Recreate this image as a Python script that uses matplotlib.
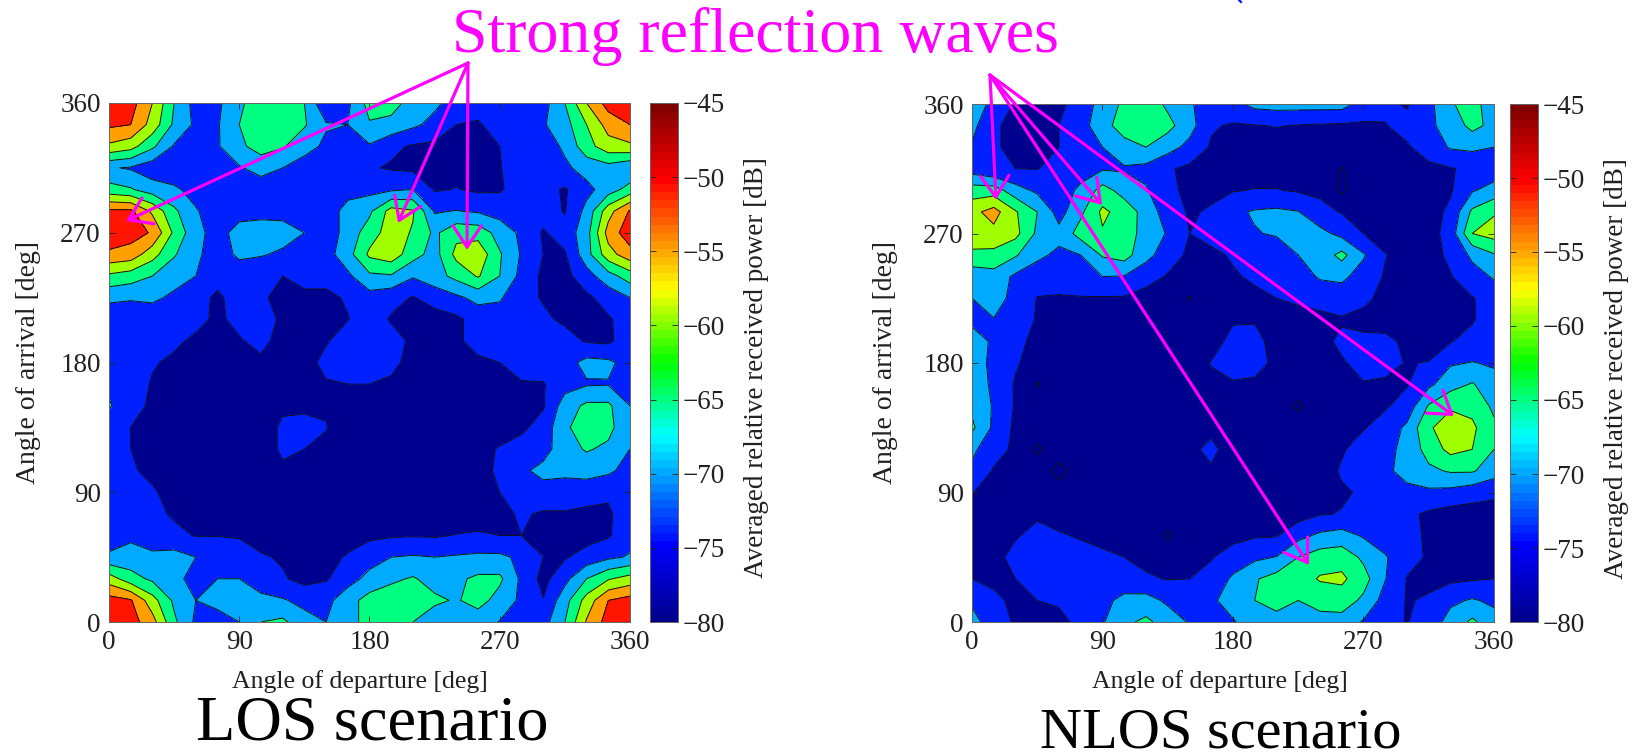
import numpy as np
import matplotlib
matplotlib.use('Agg')
import matplotlib.pyplot as plt
from matplotlib.cm import ScalarMappable
from matplotlib.colors import LinearSegmentedColormap, Normalize
from matplotlib.lines import Line2D
from matplotlib.patches import FancyArrowPatch

plt.rcParams['font.family'] = ['Liberation Serif', 'DejaVu Serif']

W, H = 1640, 755

# grid nodes, degrees
angle_departure = list(range(0, 361, 15))
angle_arrival = list(range(360, -1, -15))   # rows below run from 360 down to 0
angle_ticks = [0, 90, 180, 270, 360]
power_ticks = [-80, -75, -70, -65, -60, -55, -50, -45]
contour_levels = [-80, -75, -70, -65, -60, -55, -50, -45]
band_colors = ['#00008f', '#00008f', '#0020ff', '#00aaff', '#00ff80', '#a0ff00', '#ffa000', '#ff1500']

los_power = [
    [-47, -48, -55, -65, -72, -71, -66, -62, -62, -65, -74.5, -71, -63, -63, -67, -69, -72, -73, -73, -73, -72, -65, -55, -48, -47],
    [-49, -50, -57, -66, -71, -70.5, -65, -62, -61.5, -64.5, -69.5, -70, -65.5, -66.5, -69, -71.5, -75, -75.5, -73, -72, -70.5, -67, -60, -53, -50],
    [-56, -58, -64, -70.5, -72, -70.5, -66, -63, -64.5, -68, -71, -73, -70.5, -74, -75.5, -76, -77, -77, -75, -73, -73, -69, -62, -57, -56],
    [-69.5, -70.5, -73, -74, -73.5, -72, -70.5, -68, -70, -72.5, -73, -74, -74.5, -75.5, -76, -76, -76.5, -76, -75.2, -73, -72, -71, -68, -67, -69.5],
    [-63, -64.5, -67.5, -69, -72, -73, -73, -73, -73, -73, -73, -72, -71.5, -70.8, -70, -75.5, -74.8, -75.8, -75.5, -73, -73.5, -75.5, -71.5, -67.5, -63],
    [-49, -49, -56, -64, -69.5, -73, -72, -72, -72, -73, -73, -68, -66, -58, -59.5, -70.5, -69.8, -70.6, -72, -73, -73, -75.3, -68.5, -57, -49.5],
    [-46.5, -48, -50.5, -61, -68.5, -72, -68, -67, -67.5, -70, -73, -68, -62.5, -57.5, -60.5, -66, -61.5, -62, -67, -71, -75.5, -73, -67, -53, -47],
    [-51, -52, -58, -64.5, -69, -72.5, -69, -69.5, -71, -73, -72, -67, -59, -57, -63, -67, -58.5, -56.5, -64.5, -70.5, -75, -75.5, -67, -57, -52],
    [-61, -62.5, -65, -68, -70, -73, -73, -74.5, -75, -73.5, -73.5, -71, -66, -65.5, -69.5, -67, -63.5, -59.5, -65, -71.5, -76, -76.5, -72, -67, -62.5],
    [-69, -69.5, -69, -71, -73, -76, -72.5, -74.5, -76, -76, -76, -74.5, -72, -73.5, -75.3, -73, -71, -68.5, -69.5, -73, -75.5, -76, -76, -73, -70],
    [-73, -73, -73, -73, -73.5, -76, -73.5, -72.5, -76, -77, -77, -75.2, -72.5, -75.5, -77, -77, -76, -73, -72, -72.5, -74, -76, -75.5, -75.5, -73],
    [-72, -72, -72.5, -74, -76, -76, -75.5, -73.5, -77, -77, -75.5, -72.5, -72.5, -73, -76, -77, -76, -73, -72.5, -73, -73, -73, -75.5, -76, -72],
    [-72, -72.5, -74.5, -76, -76.5, -77, -75.5, -76, -77, -77, -73.5, -72, -72, -73.5, -77, -77, -77, -76, -75, -72.5, -72.5, -72, -68.5, -69, -72],
    [-71, -72, -75.5, -77, -77, -77, -77, -77, -77, -77, -75.5, -75, -75, -76, -77, -77, -77, -77, -76.5, -75.5, -75.3, -72, -70.5, -70.3, -70.5],
    [-69.5, -73, -76, -78, -78, -78, -78, -78, -76, -75.3, -75.5, -78, -78, -78, -78, -78, -78, -78, -78, -77, -75.5, -67.5, -64, -64, -70],
    [-72.5, -75, -78, -78, -78, -78, -78, -78, -74, -74.5, -74.8, -78, -78, -78, -78, -78, -78, -78, -78, -76, -73, -66, -62, -63.5, -69],
    [-73.5, -75, -77, -78, -78, -78, -78, -78, -74, -75, -76, -78, -78, -78, -78, -78, -78, -77, -74.5, -73, -72, -67, -64.5, -66, -70],
    [-74, -74.5, -76, -77, -78, -78, -78, -78, -76, -77, -78, -78, -78, -78, -78, -78, -78, -77, -74, -71, -68.5, -69, -68, -69, -72],
    [-74, -74, -74.5, -76.5, -78, -78, -78, -78, -78, -78, -78, -78, -78, -78, -78, -78, -78, -77, -75, -73, -72, -72, -73, -74.5, -73],
    [-74, -74, -74, -75.5, -77, -78, -78, -78, -78, -78, -78, -78, -78, -78, -78, -78, -78, -77, -76, -74.5, -75.5, -75.5, -76, -75.5, -73],
    [-73, -71, -72.5, -74, -75.2, -75.2, -75.5, -77, -77, -77, -77, -77, -76, -75.5, -75.3, -75.5, -74.8, -74.5, -75, -75, -75.5, -77, -77, -75.5, -72],
    [-69, -68, -69, -68, -70, -70.5, -72, -74.5, -75.5, -77, -76.5, -74.5, -72, -70, -69.5, -70, -69.5, -69, -69, -71, -75, -75.5, -73, -71, -69.5],
    [-57.5, -63, -66, -68, -72.5, -70, -70, -73, -74.5, -76.5, -75.5, -72, -68.5, -66, -64.5, -67, -66, -64, -64, -71, -76.5, -71.5, -65, -60.5, -58],
    [-48, -49.5, -58, -66, -70, -68.5, -68, -68.5, -69.5, -71.5, -71.5, -67, -63, -62, -62, -64, -65.5, -63, -67, -71, -74.8, -67, -58, -50, -48],
    [-47, -48, -53, -64, -71, -72, -70, -65, -64, -68, -70, -67, -63, -62, -65, -68, -68, -68, -70.2, -72, -72, -65, -54.5, -48, -47],
]

nlos_power = [
    [-68, -71, -75.5, -77, -76, -73, -68, -64, -62, -66, -69.5, -72, -71.5, -68.5, -68, -68, -68, -68, -72, -74, -75.5, -71.5, -65.5, -63, -68],
    [-68.5, -74.5, -76, -76.5, -75, -72, -67, -62.5, -61, -63.5, -68, -74.5, -75.5, -75.2, -74.8, -75.2, -75.5, -75.7, -75.7, -75.2, -73.5, -71, -68, -63.5, -66.5],
    [-70.5, -74.5, -76, -76.5, -75, -73, -70, -67, -65, -68, -71.5, -75.5, -77, -77, -77, -77, -77, -77, -77, -77, -75.5, -73, -69.5, -69, -70],
    [-72.5, -74.8, -75, -75.1, -74, -72, -70.5, -70.5, -71.5, -74.5, -76, -77, -77, -77, -77, -77, -77, -80.3, -77, -77, -77, -76, -75.3, -74, -73],
    [-62.5, -62.5, -68, -71, -72.5, -69, -63, -67, -69.5, -74, -76, -76, -75.3, -74.8, -74.8, -75.5, -76, -81, -77, -77, -77, -77, -75.5, -70.5, -68],
    [-56.5, -53, -59.5, -65, -72, -66, -59, -62, -67, -72.5, -75.5, -74.5, -71, -69.5, -69, -69.8, -73.5, -75.3, -77, -77, -77, -77, -74, -64, -60.5],
    [-56, -56.5, -58.5, -66, -68.5, -63, -60.5, -63, -66.5, -70.5, -75, -73.5, -70, -70.3, -69.5, -66.5, -68.5, -71.5, -75, -77, -77, -77, -73, -60, -58],
    [-61.5, -61.5, -64.5, -69, -71, -70, -64.5, -63, -68.5, -72.5, -76, -76, -74.5, -73, -73, -70, -68, -63.5, -69.5, -74.8, -77, -77, -74, -69, -65.5],
    [-68, -67, -71, -72.5, -73, -72, -70, -70.3, -73, -75.5, -77, -77, -75.5, -74.3, -73.5, -72, -69.5, -69, -72, -75.5, -77, -77, -75.3, -72, -69.5],
    [-70, -68, -71.5, -75.2, -75.4, -75.3, -75.4, -75.5, -77, -77, -80.3, -77, -77, -76, -75, -74, -73, -72.5, -73.5, -77, -77, -77, -77, -75.3, -73],
    [-71.5, -70.2, -72, -75.5, -77, -77, -77, -77, -77, -77, -77, -76.5, -75.5, -75.3, -77, -77, -76.5, -75.5, -77, -77, -77, -77, -77, -75.5, -72],
    [-67, -71, -74, -76, -77, -77, -77, -77, -77, -77, -77, -77, -73.5, -73.8, -76.5, -77, -76.5, -74, -73.5, -73.8, -76, -77, -75.3, -73, -70],
    [-68, -71, -74.5, -77, -77, -77, -77, -77, -77, -77, -77, -74.8, -73, -73.5, -76, -77, -77, -75.5, -73.5, -74, -75.2, -74.8, -70.5, -69.8, -70.5],
    [-67, -71, -75.5, -80.5, -77, -77, -77, -77, -77, -77, -77, -76, -75.5, -75.8, -77, -77, -77, -77, -75.3, -75.5, -75.3, -71, -67, -64.5, -68.5],
    [-66, -70.5, -75.5, -77, -77, -77, -77, -77, -77, -77, -77, -77, -77, -77, -77, -81, -77, -77, -77, -75.5, -73, -64.5, -60.5, -61.5, -66],
    [-64, -71, -76, -77, -77, -77, -77, -77, -77, -77, -75.6, -76, -77, -77, -77, -77, -77, -77, -75.3, -73, -69, -60.5, -58, -59, -64],
    [-69, -73, -76, -81, -77, -77, -77, -77, -77, -77, -76, -74, -77, -77, -77, -77, -77, -75.5, -73, -71.5, -68.5, -63, -58.5, -60, -65],
    [-71, -75.5, -77, -77, -82, -77, -77, -77, -77, -77, -77, -75.5, -77, -77, -77, -77, -77, -74.5, -72.5, -71.5, -67.5, -66, -64.5, -64.5, -67.5],
    [-74.8, -77, -77, -77, -77, -77, -77, -77, -77, -77, -77, -77, -77, -77, -77, -77, -77, -75.5, -74.5, -73, -72, -71, -71.5, -73, -74.5],
    [-77, -77, -76.5, -75.5, -77, -77, -77, -77, -77, -77, -77, -77, -77, -77, -77, -77, -75.3, -74.8, -73.5, -73, -74, -75.8, -77, -77, -76],
    [-77, -76.5, -75.3, -74, -74.5, -75.5, -76.5, -77, -77, -81, -77, -77, -76, -75.5, -75.3, -71.5, -69, -68, -70.5, -73, -74, -75.5, -77, -77, -76.5],
    [-76, -76, -74, -73, -72.5, -73, -74, -75, -76, -76, -76, -75.2, -73.5, -71, -69.8, -65, -62.5, -62, -66, -69.5, -73.5, -75.5, -77, -77, -76],
    [-75, -76, -75, -73.5, -72.8, -73.5, -73.5, -74.5, -74.5, -75.2, -75, -74, -69, -65.5, -63, -62.5, -59.5, -59, -63, -69.8, -75.2, -76, -76, -75.5, -75],
    [-71, -74, -76, -75, -74.5, -75, -72, -68, -68, -71, -73, -71, -67.5, -65, -63.5, -65, -63.5, -62.5, -66, -72, -75.3, -74.5, -71, -69.5, -71],
    [-68, -73, -75.5, -76, -76, -74, -70.5, -66, -64, -67, -70.5, -73, -70.5, -67, -66.5, -66.5, -66.5, -67, -70.5, -73.5, -75.2, -73, -68, -64, -68],
]

# colorbar ramp
bar_cmap = LinearSegmentedColormap.from_list('bar', [
    (0.0, '#00008f'), (0.143, '#0000ff'), (0.357, '#00ffff'), (0.5, '#00ff00'),
    (0.643, '#ffff00'), (0.857, '#ff0000'), (1.0, '#800000')], N=64)

TXT = '#231f20'


def px_rect(x0, y0, x1, y1):
    # pixel box (y from the top) to figure fractions
    return [x0 / W, 1 - y1 / H, (x1 - x0) / W, (y1 - y0) / H]


def px_pt(x, y):
    return (x / W, 1 - y / H)


def draw_panel(fig, rect, cbar_rect, power, xlabel_x, ylabel_x):
    ax = fig.add_axes(px_rect(*rect))
    xx, yy = np.meshgrid(angle_departure, angle_arrival)
    zz = np.array(power, dtype=float)
    ax.contourf(xx, yy, zz, levels=contour_levels, colors=band_colors, extend='min')
    ax.contour(xx, yy, zz, levels=contour_levels, colors='#111111', linewidths=0.7,
               linestyles='solid')
    ax.set_xlim(0, 360)
    ax.set_ylim(0, 360)
    ax.set_xticks(angle_ticks)
    ax.set_yticks(angle_ticks)
    ax.tick_params(direction='in', top=True, right=True, length=4, width=0.6,
                   labelsize=19.5, pad=6, colors=TXT)
    ax.set_xlabel('Angle of departure [deg]', fontsize=18.5, color=TXT)
    ax.set_ylabel('Angle of arrival [deg]', fontsize=20, color=TXT)
    ax.xaxis.set_label_coords(xlabel_x, -0.093)
    ax.yaxis.set_label_coords(ylabel_x, 0.5)
    for s in ax.spines.values():
        s.set_linewidth(0.7)
        s.set_color('#666666')

    cax = fig.add_axes(px_rect(*cbar_rect))
    sm = ScalarMappable(norm=Normalize(-80, -45), cmap=bar_cmap)
    cb = fig.colorbar(sm, cax=cax)
    cb.set_ticks(power_ticks)
    cb.ax.tick_params(direction='in', left=True, right=True, length=4, width=0.6,
                      labelsize=19.5, pad=3, colors=TXT)
    cb.outline.set_linewidth(0.7)
    cb.outline.set_edgecolor('#666666')
    cb.set_label('Averaged relative received power [dB]', fontsize=19.5, color=TXT)
    cb.ax.yaxis.set_label_coords(3.35, 0.49)
    return ax


def arrow(fig, start, tip):
    fig.add_artist(FancyArrowPatch(
        px_pt(*start), px_pt(*tip), transform=fig.transFigure,
        arrowstyle='->,head_length=9,head_width=6', color='#ff00ff', lw=2.3,
        shrinkA=0, shrinkB=0, mutation_scale=1.7, zorder=10))


fig = plt.figure(figsize=(W / 100, H / 100), dpi=100)

draw_panel(fig, (109, 103, 630, 622), (650, 103, 678, 622), los_power, 0.481, -0.130)
draw_panel(fig, (972, 104, 1494, 622), (1510, 104, 1538, 622), nlos_power, 0.475, -0.142)

for tip in [(126, 221), (398, 223), (467, 250)]:
    arrow(fig, (468, 63), tip)
for tip in [(996, 200), (1102, 205), (1309, 565), (1454, 416)]:
    arrow(fig, (990, 75), tip)

fig.text(*px_pt(755, 37), 'Strong reflection waves', color='#ff00ff', fontsize=46,
         ha='center', va='center')
fig.text(*px_pt(372, 725), 'LOS scenario', color='k', fontsize=46.4, ha='center', va='center')
fig.text(*px_pt(1221, 733), 'NLOS scenario', color='k', fontsize=42, ha='center', va='center')

# bit of clipped blue ink on the top edge of the slide
fig.add_artist(Line2D([1239 / W, 1241 / W], [1, 1 - 2 / H], color='#0000ff', lw=1.5))

fig.savefig('out.png', dpi=100)
